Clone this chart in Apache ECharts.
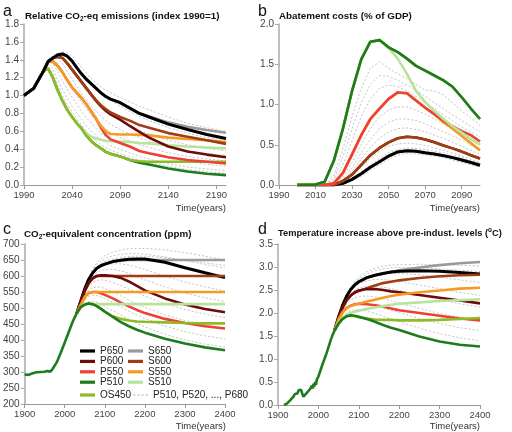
<!DOCTYPE html>
<html><head><meta charset="utf-8">
<script src="https://cdn.jsdelivr.net/npm/echarts@6/dist/echarts.min.js"></script>
<style>html,body{margin:0;padding:0;background:#fff}#c{width:512px;height:432px}</style>
</head><body><div id="c"></div>
<script>
// ---------- Panel a: relative CO2-eq emissions ----------
const yearsA = [1990,2000,2010,2015,2020,2025,2030,2035,2040,2045,2050,2055,2060,2065,2070,2075,2080,2090,2100,2110,2120,2140,2160,2180,2200];
const emisP650 = [1.0,1.08,1.27,1.38,1.42,1.455,1.465,1.44,1.385,1.31,1.24,1.18,1.13,1.08,1.03,0.99,0.96,0.92,0.86,0.80,0.76,0.68,0.62,0.565,0.52];
const emisS650 = [1.0,1.08,1.27,1.38,1.42,1.455,1.465,1.44,1.385,1.31,1.24,1.18,1.13,1.08,1.03,0.99,0.96,0.92,0.86,0.80,0.765,0.70,0.65,0.615,0.585];
const emisP600 = [1.0,1.08,1.27,1.38,1.42,1.435,1.42,1.36,1.29,1.22,1.15,1.08,1.01,0.94,0.88,0.83,0.79,0.73,0.66,0.595,0.53,0.43,0.375,0.34,0.31];
const emisS600 = [1.0,1.08,1.27,1.38,1.42,1.435,1.42,1.36,1.29,1.22,1.15,1.08,1.01,0.95,0.89,0.85,0.81,0.76,0.72,0.67,0.64,0.58,0.54,0.50,0.46];
const emisS550 = [1.0,1.08,1.27,1.38,1.38,1.33,1.26,1.17,1.09,1.03,0.97,0.90,0.82,0.74,0.66,0.60,0.57,0.565,0.565,0.56,0.555,0.53,0.515,0.50,0.48];
const emisP550 = [1.0,1.08,1.27,1.38,1.38,1.33,1.26,1.17,1.09,1.03,0.97,0.90,0.82,0.74,0.64,0.56,0.51,0.47,0.43,0.38,0.355,0.31,0.28,0.26,0.24];
const emisP510 = [1.0,1.08,1.27,1.30,1.20,1.06,0.94,0.84,0.76,0.69,0.63,0.55,0.49,0.445,0.41,0.37,0.35,0.32,0.28,0.25,0.23,0.185,0.15,0.125,0.11];
const emisOS450 = [1.0,1.08,1.27,1.30,1.20,1.06,0.94,0.84,0.76,0.69,0.63,0.55,0.49,0.445,0.41,0.37,0.35,0.32,0.28,0.265,0.26,0.26,0.26,0.26,0.26];
const emisS510 = [1.0,1.08,1.27,1.30,1.20,1.06,0.94,0.84,0.76,0.69,0.63,0.57,0.54,0.52,0.505,0.495,0.49,0.485,0.48,0.47,0.465,0.445,0.43,0.42,0.41];
const emisDashed = [
  [1.0,1.08,1.27,1.33,1.25,1.12,1.00,0.90,0.82,0.74,0.67,0.60,0.54,0.49,0.45,0.42,0.39,0.35,0.31,0.28,0.25,0.21,0.17,0.15,0.13],
  [1.0,1.08,1.27,1.35,1.30,1.18,1.07,0.97,0.88,0.80,0.73,0.66,0.60,0.55,0.51,0.47,0.44,0.40,0.36,0.32,0.29,0.24,0.20,0.18,0.16],
  [1.0,1.08,1.27,1.37,1.36,1.27,1.17,1.07,0.98,0.90,0.82,0.75,0.69,0.63,0.58,0.54,0.51,0.46,0.42,0.38,0.35,0.30,0.26,0.23,0.21],
  [1.0,1.08,1.27,1.38,1.40,1.36,1.27,1.17,1.08,1.00,0.92,0.85,0.78,0.72,0.67,0.63,0.59,0.53,0.49,0.45,0.42,0.36,0.32,0.29,0.27],
  [1.0,1.08,1.27,1.38,1.42,1.42,1.36,1.27,1.18,1.10,1.02,0.95,0.88,0.82,0.77,0.72,0.68,0.62,0.57,0.53,0.49,0.43,0.38,0.35,0.33],
  [1.0,1.08,1.27,1.38,1.43,1.45,1.43,1.37,1.29,1.20,1.12,1.05,0.98,0.92,0.87,0.83,0.79,0.72,0.66,0.61,0.57,0.50,0.45,0.41,0.38],
  [1.0,1.08,1.27,1.38,1.43,1.46,1.47,1.45,1.40,1.33,1.26,1.19,1.13,1.08,1.03,0.99,0.95,0.88,0.82,0.77,0.72,0.64,0.58,0.53,0.50],
  [1.0,1.08,1.27,1.38,1.43,1.47,1.49,1.48,1.44,1.38,1.31,1.25,1.19,1.14,1.10,1.06,1.03,0.98,0.93,0.88,0.84,0.76,0.69,0.64,0.60]
];
const ticksA = [1990,2040,2090,2140,2190];

// ---------- Panel b: abatement costs ----------
const yearsB = [2000,2005,2010,2015,2020,2025,2030,2035,2040,2045,2050,2055,2060,2065,2070,2075,2080,2085,2090,2095,2100];
const costP510 = [0,0,0.005,0.04,0.30,0.70,1.17,1.56,1.78,1.80,1.71,1.65,1.57,1.48,1.42,1.36,1.30,1.22,1.09,0.95,0.82];
const costOS450 = [0,0,0.005,0.04,0.30,0.70,1.17,1.56,1.78,1.80,1.71,1.65,1.57,1.48,1.42,1.36,1.30,1.22,1.09,0.95,0.82];
const costS510 = [0,0,0.005,0.04,0.30,0.70,1.17,1.56,1.78,1.80,1.70,1.57,1.38,1.17,1.03,0.92,0.82,0.73,0.65,0.57,0.50];
const costP550 = [0,0,0,0,0.02,0.15,0.38,0.62,0.82,0.95,1.07,1.15,1.14,1.05,0.96,0.88,0.80,0.73,0.67,0.62,0.54];
const costS550 = [0,0,0,0,0.02,0.15,0.38,0.62,0.82,0.95,1.07,1.15,1.14,1.05,0.96,0.88,0.78,0.70,0.61,0.52,0.43];
const costP600 = [0,0,0,0,0,0.05,0.13,0.25,0.37,0.46,0.53,0.58,0.60,0.59,0.565,0.53,0.49,0.455,0.415,0.37,0.33];
const costS600 = [0,0,0,0,0,0.05,0.13,0.25,0.37,0.46,0.53,0.58,0.60,0.59,0.565,0.53,0.49,0.455,0.415,0.37,0.33];
const costP650 = [0,0,0,0,0,0.02,0.07,0.14,0.22,0.29,0.36,0.41,0.425,0.42,0.40,0.385,0.365,0.34,0.31,0.28,0.245];
const costS650 = [0,0,0,0,0,0.02,0.07,0.14,0.22,0.29,0.36,0.41,0.425,0.42,0.40,0.385,0.365,0.34,0.31,0.28,0.245];
const costDashed = [
  [0,0,0,0,0.12,0.45,0.85,1.20,1.45,1.53,1.45,1.38,1.32,1.25,1.18,1.17,1.12,1.02,0.92,0.83,0.74],
  [0,0,0,0,0.08,0.35,0.70,1.02,1.25,1.36,1.35,1.30,1.24,1.18,1.10,1.02,0.95,0.87,0.80,0.73,0.66],
  [0,0,0,0,0.05,0.25,0.55,0.85,1.07,1.20,1.24,1.22,1.17,1.10,1.02,0.95,0.87,0.80,0.72,0.66,0.60],
  [0,0,0,0,0.01,0.10,0.28,0.50,0.70,0.85,0.93,0.97,0.97,0.93,0.88,0.82,0.76,0.69,0.63,0.57,0.50],
  [0,0,0,0,0.01,0.07,0.21,0.40,0.57,0.70,0.78,0.82,0.82,0.80,0.76,0.71,0.66,0.61,0.56,0.50,0.45],
  [0,0,0,0,0,0.05,0.17,0.32,0.47,0.58,0.66,0.70,0.71,0.69,0.66,0.62,0.58,0.53,0.48,0.43,0.38],
  [0,0,0,0,0,0.03,0.11,0.22,0.33,0.42,0.48,0.51,0.52,0.51,0.49,0.46,0.43,0.40,0.36,0.32,0.28],
  [0,0,0,0,0,0.02,0.08,0.16,0.25,0.33,0.40,0.44,0.46,0.455,0.44,0.42,0.40,0.37,0.34,0.30,0.27],
  [0,0,0,0,0,0.01,0.05,0.11,0.18,0.25,0.32,0.37,0.39,0.385,0.375,0.36,0.34,0.31,0.28,0.25,0.22]
];
const ticksB = [1990,2010,2030,2050,2070,2090];

// ---------- Panel c: CO2-equivalent concentration ----------
const histYearsC = [1900,1910,1920,1930,1940,1950,1955,1960,1965,1970,1980,1990,2000,2010,2020];
const histConc = [292,291,296,299,300,301,303,302,302,310,330,360,392,425,458];
const yearsC = [2030,2040,2050,2060,2070,2080,2090,2100,2120,2140,2160,2180,2200,2250,2300,2350,2400];
const concP650 = [484,522,560,590,610,624,632,637,645,649,652,653,653,643,626,610,595];
const concS650 = [484,522,560,590,610,624,632,637,645,649,650,650,650,650,650,650,650];
const concP600 = [484,520,553,578,593,600,602,602,600,594,583,569,555,530,511,497,487];
const concS600 = [484,520,553,578,593,600,600,600,600,600,600,600,600,600,600,600,600];
const concP550 = [484,510,535,547,550,550,546,541,530,517,505,494,484,466,453,443,436];
const concS550 = [484,510,535,547,550,550,550,550,550,550,550,550,550,550,550,550,550];
const concP510 = [484,503,511,514,512,506,498,489,472,456,443,432,423,404,389,377,368];
const concS510 = [484,503,511,513,512,512,512,512,512,512,512,512,512,512,512,512,512];
const concOS450 = [484,503,511,514,512,506,497,488,474,466,461,458,457,455,453,452,452];
const concDashed = [
  [484,500,513,520,521,518,512,505,492,478,465,452,441,418,400,387,378],
  [484,505,525,536,540,539,535,530,517,503,490,478,467,444,426,413,403],
  [484,512,540,556,564,566,565,561,550,538,525,513,502,479,461,447,437],
  [484,517,548,568,580,586,588,587,580,570,559,548,537,514,495,481,470],
  [484,522,557,583,600,611,617,620,621,616,608,598,588,566,547,532,520],
  [484,523,560,588,607,620,628,633,638,638,634,628,620,600,581,566,553],
  [484,524,562,592,613,628,638,645,653,658,661,662,662,657,649,641,633],
  [484,525,563,595,618,635,646,654,663,668,670,670,668,660,648,636,625],
  [484,526,565,598,623,641,654,663,675,681,685,686,686,682,673,662,650]
];

// ---------- Panel d: temperature increase ----------
const histYearsD = [1915,1918,1922,1926,1930,1934,1938,1942,1945,1948,1951,1954,1957,1960,1963,1966,1969,1972,1975,1978,1981,1984,1986,1988,1990,1992,1994,1996,1998,2000,2005,2010,2015,2020,2025,2030,2035];
const histTemp = [0.0,0.02,0.03,0.07,0.10,0.14,0.18,0.24,0.27,0.25,0.32,0.35,0.33,0.25,0.18,0.20,0.24,0.26,0.30,0.34,0.37,0.42,0.36,0.46,0.40,0.50,0.44,0.55,0.52,0.62,0.75,0.88,1.0,1.12,1.26,1.40,1.52];
const yearsD = [2040,2050,2060,2070,2080,2090,2100,2120,2140,2160,2180,2200,2250,2300,2350,2400];
const tempP650 = [1.62,1.92,2.17,2.37,2.51,2.61,2.68,2.77,2.82,2.86,2.89,2.91,2.92,2.91,2.88,2.85];
const tempS650 = [1.62,1.92,2.17,2.37,2.51,2.61,2.68,2.77,2.82,2.86,2.89,2.93,2.99,3.04,3.08,3.11];
const tempP600 = [1.62,1.90,2.12,2.28,2.38,2.45,2.49,2.52,2.52,2.50,2.47,2.45,2.39,2.33,2.27,2.21];
const tempS600 = [1.62,1.90,2.12,2.28,2.38,2.44,2.48,2.54,2.60,2.65,2.68,2.71,2.76,2.80,2.82,2.83];
const tempP550 = [1.62,1.86,2.02,2.11,2.16,2.19,2.20,2.19,2.17,2.14,2.10,2.06,2.00,1.94,1.88,1.84];
const tempS550 = [1.62,1.86,2.02,2.11,2.15,2.18,2.20,2.25,2.29,2.33,2.37,2.40,2.45,2.49,2.53,2.55];
const tempP510 = [1.62,1.77,1.87,1.93,1.95,1.94,1.92,1.87,1.81,1.74,1.68,1.63,1.49,1.38,1.31,1.27];
const tempS510 = [1.62,1.79,1.90,1.96,2.00,2.03,2.05,2.09,2.12,2.15,2.18,2.20,2.23,2.26,2.28,2.30];
const tempOS450 = [1.62,1.77,1.87,1.93,1.94,1.93,1.91,1.88,1.86,1.85,1.85,1.84,1.84,1.85,1.87,1.89];
const tempDashed = [
  [1.62,1.80,1.93,2.01,2.05,2.07,2.07,2.04,1.99,1.93,1.87,1.81,1.67,1.55,1.46,1.40],
  [1.62,1.84,2.00,2.11,2.17,2.20,2.21,2.20,2.16,2.11,2.06,2.01,1.88,1.77,1.68,1.62],
  [1.62,1.87,2.06,2.20,2.28,2.33,2.36,2.37,2.35,2.31,2.27,2.22,2.10,1.99,1.90,1.83],
  [1.62,1.90,2.12,2.29,2.41,2.49,2.54,2.58,2.58,2.56,2.53,2.49,2.39,2.29,2.20,2.13],
  [1.62,1.91,2.15,2.33,2.47,2.57,2.63,2.70,2.73,2.73,2.71,2.69,2.61,2.53,2.45,2.38],
  [1.62,1.92,2.17,2.36,2.51,2.61,2.68,2.77,2.82,2.85,2.86,2.86,2.83,2.78,2.72,2.66],
  [1.62,1.93,2.19,2.39,2.55,2.66,2.74,2.85,2.92,2.96,2.98,2.99,2.98,2.96,2.93,2.90],
  [1.62,1.93,2.20,2.41,2.57,2.69,2.78,2.90,2.97,3.02,3.04,3.05,3.06,3.05,3.04,3.02]
];

// ---------- styling ----------
const COLORS = {P650:'#000000',P600:'#6e0c0c',P550:'#ee4035',P510:'#1e7b1e',OS450:'#8dbb25',
  S650:'#9a9a9a',S600:'#a13d12',S550:'#f59a23',S510:'#b7e39b'};
const DASH_NAME = 'P510, P520, ..., P680';
const FONT = 'Liberation Sans, Arial, sans-serif';

function zip(xs, ys){ const out=[]; for(let i=0;i<xs.length;i++){ if(ys[i]!=null) out.push([xs[i],ys[i]]); } return out; }
function ln(name, idx, xs, ys){
  return {type:'line', name:name, xAxisIndex:idx, yAxisIndex:idx, data:zip(xs,ys), symbol:'none', showSymbol:false,
    lineStyle:{color:COLORS[name], width: name==='P650'?3:2.6}, itemStyle:{color:COLORS[name]}, silent:true, animation:false};
}
function dashed(idx, xs, ys){
  return {type:'line', name:DASH_NAME, xAxisIndex:idx, yAxisIndex:idx, data:zip(xs,ys), symbol:'none', showSymbol:false,
    lineStyle:{color:'#b4b4b4', width:0.8, type:[2,2]}, itemStyle:{color:'#b4b4b4'}, silent:true, animation:false};
}

const series = [];
emisDashed.forEach(d=>series.push(dashed(0, yearsA, d)));
const A = {P510:emisP510,S510:emisS510,OS450:emisOS450,P550:emisP550,S550:emisS550,P600:emisP600,S600:emisS600,S650:emisS650,P650:emisP650};
['P510','S510','OS450','P550','S550','P600','S600','S650','P650'].forEach(n=>series.push(ln(n,0,yearsA,A[n])));

costDashed.forEach(d=>series.push(dashed(1, yearsB, d)));
const B = {S650:costS650,P650:costP650,P600:costP600,S600:costS600,S550:costS550,P550:costP550,S510:costS510,OS450:costOS450,P510:costP510};
['S650','P650','P600','S600','S550','P550','S510','OS450','P510'].forEach(n=>series.push(ln(n,1,yearsB,B[n])));

concDashed.forEach(d=>series.push(dashed(2, yearsC, d)));
const C = {S650:concS650,P650:concP650,S600:concS600,P600:concP600,P550:concP550,S550:concS550,S510:concS510,OS450:concOS450};
['S650','P650','S600','P600','P550','S550','S510','OS450'].forEach(n=>series.push(ln(n,2,yearsC,C[n])));
series.push(ln('P510',2,histYearsC.concat(yearsC),histConc.concat(concP510)));

tempDashed.forEach(d=>series.push(dashed(3, yearsD, d)));
const D = {S650:tempS650,P650:tempP650,S600:tempS600,P600:tempP600,P550:tempP550,S550:tempS550,S510:tempS510,OS450:tempOS450};
['S650','P650','S600','P600','P550','S550','S510','OS450'].forEach(n=>series.push(ln(n,3,yearsD,D[n])));
series.push(ln('P510',3,histYearsD.concat(yearsD),histTemp.concat(tempP510)));

function xAx(idx, min, max, opts){
  const ax = {type:'value', gridIndex:idx, min:min, max:max, splitLine:{show:false},
    axisLine:{show:true, onZero:false, lineStyle:{color:'#999', width:1}},
    axisTick:{show:true, length:4, lineStyle:{color:'#999'}},
    axisLabel:{color:'#444', fontSize:9.5, fontFamily:FONT, margin:5, formatter: v=>String(v)}};
  if(opts.ticks){ ax.axisTick.customValues = opts.ticks; ax.axisLabel.customValues = opts.ticks; }
  if(opts.interval){ ax.interval = opts.interval; }
  return ax;
}
function yAx(idx, min, max, interval, dec){
  return {type:'value', gridIndex:idx, min:min, max:max, interval:interval, splitLine:{show:false},
    axisLine:{show:true, onZero:false, lineStyle:{color:'#aaa', width:1.5}},
    axisTick:{show:true, length:4, lineStyle:{color:'#aaa'}},
    axisLabel:{color:'#444', fontSize:10, fontFamily:FONT, margin:5, formatter: v=> dec? v.toFixed(dec): String(v)}};
}

function mkRich(ts, sup){
  return {b:{fontFamily:FONT,fontSize:ts,fontWeight:'bold',color:'#111',lineHeight:13},
    s:{fontFamily:FONT,fontSize:6.5,fontWeight:'bold',color:'#111',lineHeight:7,verticalAlign: sup?'top':'bottom'}};
}
function ttl(text, left, top, ts, sup){
  return {text:text, left:left, top:top, padding:0, textStyle:{fontFamily:FONT, fontSize:ts, fontWeight:'bold', color:'#111', rich:mkRich(ts,sup)}};
}
function letter(t, left, top){ return {text:t, left:left, top:top, padding:0, textStyle:{fontFamily:FONT, fontSize:16, fontWeight:'normal', color:'#111'}}; }

const legText = {fontFamily:FONT, fontSize:10, color:'#222', lineHeight:10};
const DASH_ICON = 'path://M0,0h2.4v1h-2.4zM4.2,0h2.4v1h-2.4zM8.4,0h2.4v1h-2.4zM12.6,0h2.4v1h-2.4z';
function leg(data, left, top, dash){
  return {data:data, left:left, top:top, orient:'vertical', itemWidth:15, itemHeight: dash?1:3.2, itemGap:0.4, padding:0,
    icon: dash? DASH_ICON : 'rect', textStyle:legText, selectedMode:false};
}

const option = {
  animation:false,
  backgroundColor:'#fff',
  grid:[
    {left:24, top:24, width:202, height:161},
    {left:279, top:24, width:201, height:161},
    {left:24, top:244, width:201, height:160},
    {left:278, top:244, width:202, height:161}
  ],
  xAxis:[
    xAx(0,1990,2200,{ticks:ticksA}),
    xAx(1,1990,2100,{ticks:ticksB}),
    xAx(2,1900,2400,{interval:100}),
    xAx(3,1900,2400,{interval:100})
  ],
  yAxis:[
    yAx(0,0,1.8,0.2,1),
    yAx(1,0,2.0,0.5,1),
    yAx(2,200,700,50,0),
    yAx(3,0,3.5,0.5,1)
  ],
  title:[
    letter('a',3,4), letter('b',258,4), letter('c',3,222), letter('d',258,222),
    ttl('{b|Relative CO}{s|2}{b|-eq emissions (index 1990=1)}',25,10,9.8,false),
    ttl('{b|Abatement costs (% of GDP)}',279,10,9.8,false),
    ttl('{b|CO}{s|2}{b|-equivalent concentration (ppm)}',24,228,9.8,false),
    ttl('{b|Temperature increase above pre-indust. levels (}{s|o}{b|C)}',278,227,9.3,true)
  ],
  legend:[
    leg(['P650','P600','P550','P510'],80,346,false),
    leg(['S650','S600','S550','S510'],128,346,false),
    leg(['OS450'],80,390,false),
    leg([DASH_NAME],133,390,true)
  ],
  graphic:[
    {type:'text', style:{text:'Time(years)', x:226, y:208, align:'right', verticalAlign:'middle', font:'9.5px '+FONT, fill:'#333'}},
    {type:'text', style:{text:'Time(years)', x:480, y:208, align:'right', verticalAlign:'middle', font:'9.5px '+FONT, fill:'#333'}},
    {type:'text', style:{text:'Time(years)', x:226, y:426, align:'right', verticalAlign:'middle', font:'9.5px '+FONT, fill:'#333'}},
    {type:'text', style:{text:'Time(years)', x:480, y:426, align:'right', verticalAlign:'middle', font:'9.5px '+FONT, fill:'#333'}}
  ],
  series:series
};
const chart = echarts.init(document.getElementById('c'), null, {renderer:'canvas'});
chart.setOption(option);
</script></body></html>
